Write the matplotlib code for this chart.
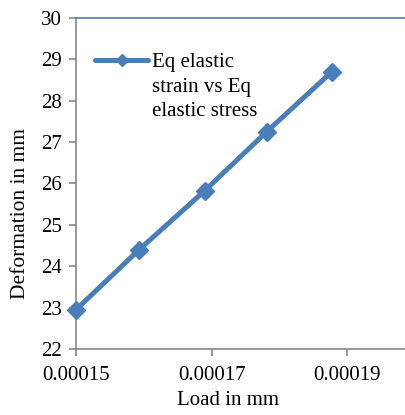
import matplotlib
matplotlib.use('Agg')
import matplotlib.pyplot as plt
from matplotlib.lines import Line2D

# data
load = [0.00015, 0.0001593, 0.0001690, 0.0001781, 0.0001877]
deformation = [22.95, 24.40, 25.83, 27.25, 28.70]
xticks = [0.00015, 0.00017, 0.00019]
xtick_labels = ['0.00015', '0.00017', '0.00019']
yticks = [22, 23, 24, 25, 26, 27, 28, 29, 30]
series_label = 'Eq elastic\nstrain vs Eq\nelastic stress'

blue = '#4A7EBB'
grey = '#868686'

plt.rcParams['font.family'] = ['Liberation Serif', 'DejaVu Serif']

fig = plt.figure(figsize=(4.06, 4.15), dpi=100)
ax = fig.add_axes([76 / 406, 66 / 415, 330 / 406, 331 / 415])

ax.plot(load, deformation, color=blue, lw=3.6, marker='D', ms=9.5,
        mfc=blue, mec=blue, mew=1, solid_capstyle='butt', zorder=3,
        clip_on=False)

ax.set_xlim(0.00015, 0.00019864)
ax.set_ylim(22, 30)
ax.set_xticks(xticks)
ax.set_xticklabels(xtick_labels)
ax.set_yticks(yticks)

for side in ['left', 'bottom']:
    ax.spines[side].set_color(grey)
    ax.spines[side].set_linewidth(1.2)
ax.spines['right'].set_visible(False)
ax.spines['top'].set_color(blue)
ax.spines['top'].set_linewidth(1.2)

ax.tick_params(axis='both', colors=grey, direction='out', length=5, width=1.2,
               labelsize=15, labelcolor='black')
ax.tick_params(axis='x', pad=7)
ax.tick_params(axis='y', pad=5)

ax.set_xlabel('Load in mm', fontsize=15)
ax.xaxis.set_label_coords(0.46, -0.128)
ax.set_ylabel('Deformation in mm', fontsize=15.5)
ax.yaxis.set_label_coords(-0.14, 0.41)

# legend drawn by hand so the handle sits level with the first line
h = Line2D([0.058, 0.218], [0.873, 0.873], transform=ax.transAxes, color=blue,
           lw=3.6, solid_capstyle='round')
ax.add_line(h)
ax.plot([0.138], [0.873], transform=ax.transAxes, marker='D', ms=6,
        color=blue, clip_on=False)
ax.text(0.230, 0.893, series_label, transform=ax.transAxes, fontsize=15,
        va='top', ha='left', linespacing=1.38)

fig.savefig('out.png', dpi=100)
